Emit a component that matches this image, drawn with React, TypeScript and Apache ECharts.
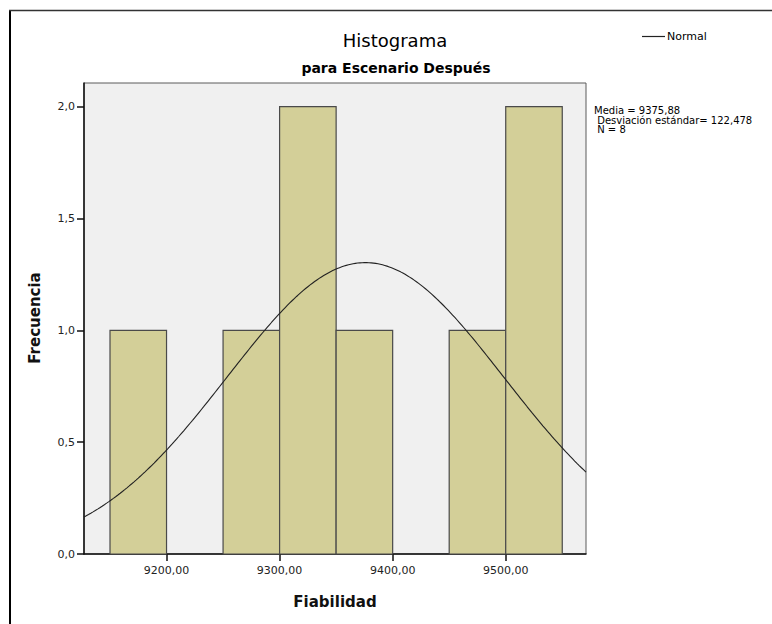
import React, { useEffect, useRef } from "react";
import * as echarts from "echarts";

// ---- data ----
const binStarts = [9150, 9200, 9250, 9300, 9350, 9400, 9450, 9500];
const binWidth = 50;
const counts = [1, 0, 1, 2, 1, 0, 1, 2];
const xTicks = [9200, 9300, 9400, 9500];
const yTicks = [0, 0.5, 1.0, 1.5, 2.0];
const meanValue = 9375.88;
const sdValue = 122.478;
const nValue = 8;
const xMin = 9127;
const xMax = 9571;
const yMax = 2.106;
const titleText = "Histograma";
const subtitleText = "para Escenario Después";
const xName = "Fiabilidad";
const yName = "Frecuencia";
const statsLines = ["Media = 9375,88", " Desviación estándar= 122,478", " N = 8"];

const FONT = "DejaVu Sans";

function normalCurve(): number[][] {
  const pts: number[][] = [];
  const k = (nValue * binWidth) / (sdValue * Math.sqrt(2 * Math.PI));
  for (let x = xMin; x <= xMax; x += 2) {
    const z = (x - meanValue) / sdValue;
    pts.push([x, k * Math.exp(-0.5 * z * z)]);
  }
  return pts;
}

export default function App() {
  const ref = useRef<HTMLDivElement>(null);
  useEffect(() => {
    if (!ref.current) return;
    const chart = echarts.init(ref.current, null, { renderer: "svg" });
    const barData = binStarts.map((s, i) => [s, s + binWidth, counts[i]]);
    const comma = (v: number, d: number) => v.toFixed(d).replace(".", ",");
    chart.setOption({
      animation: false,
      backgroundColor: "#ffffff",
      grid: {
        left: 84,
        top: 83,
        width: 502,
        height: 471,
        show: true,
        backgroundColor: "#f0f0f0",
        borderColor: "#5a5a5a",
        borderWidth: 1,
      },
      xAxis: {
        type: "value",
        min: xMin,
        max: xMax,
        splitLine: { show: false },
        axisLine: { show: true, lineStyle: { color: "#111", width: 1.5 } },
        axisTick: {
          show: true,
          length: 7,
          customValues: xTicks,
          lineStyle: { color: "#111", width: 1.5 },
        },
        axisLabel: {
          customValues: xTicks,
          formatter: (v: number) => comma(v, 2),
          fontFamily: FONT,
          fontSize: 11,
          color: "#222",
          margin: 11,
        },
      },
      yAxis: {
        type: "value",
        min: 0,
        max: yMax,
        splitLine: { show: false },
        axisLine: { show: true, lineStyle: { color: "#111", width: 1.5 } },
        axisTick: {
          show: true,
          length: 7,
          customValues: yTicks,
          lineStyle: { color: "#111", width: 1.5 },
        },
        axisLabel: {
          customValues: yTicks,
          formatter: (v: number) => comma(v, 1),
          fontFamily: FONT,
          fontSize: 11,
          color: "#222",
          margin: 9,
        },
      },
      legend: {
        data: ["Normal"],
        left: 642,
        top: 31,
        padding: 0,
        icon: "rect",
        itemWidth: 23,
        itemHeight: 1.2,
        textStyle: { fontFamily: FONT, fontSize: 11, color: "#000", padding: [0, 0, 0, -3] },
      },
      series: [
        {
          type: "custom",
          name: "Frecuencia",
          data: barData,
          encode: { x: [0, 1], y: 2 },
          renderItem: (params: any, api: any) => {
            const c = api.value(2);
            if (!c) return null;
            const p0 = api.coord([api.value(0), c]);
            const p1 = api.coord([api.value(1), 0]);
            return {
              type: "rect",
              shape: { x: p0[0], y: p0[1], width: p1[0] - p0[0], height: p1[1] - p0[1] },
              style: { fill: "#d3cf98", stroke: "#4a4a4a", lineWidth: 1.2 },
            };
          },
          z: 2,
        },
        {
          type: "line",
          name: "Normal",
          data: normalCurve(),
          showSymbol: false,
          symbol: "none",
          smooth: false,
          clip: true,
          lineStyle: { color: "#222", width: 1.1 },
          itemStyle: { color: "#222" },
          z: 3,
        },
      ],
      graphic: [
        { type: "line", shape: { x1: 10, y1: 10, x2: 10, y2: 624 }, style: { stroke: "#000", lineWidth: 2 } },
        { type: "line", shape: { x1: 9, y1: 10.5, x2: 772, y2: 10.5 }, style: { stroke: "#333", lineWidth: 1.5 } },
        {
          type: "text",
          x: 395,
          y: 40,
          style: { text: titleText, font: `18px "${FONT}"`, fill: "#000", align: "center", verticalAlign: "middle" },
        },
        {
          type: "text",
          x: 396,
          y: 68,
          style: { text: subtitleText, font: `bold 14px "${FONT}"`, fill: "#000", align: "center", verticalAlign: "middle" },
        },
        {
          type: "text",
          x: 335,
          y: 602,
          style: { text: xName, font: `bold 15px "${FONT}"`, fill: "#111", align: "center", verticalAlign: "middle" },
        },
        {
          type: "text",
          x: 35,
          y: 318,
          rotation: Math.PI / 2,
          style: { text: yName, font: `bold 15px "${FONT}"`, fill: "#111", align: "center", verticalAlign: "middle" },
        },
        {
          type: "text",
          x: 594,
          y: 106,
          style: {
            text: statsLines.join("\n"),
            font: `10px "${FONT}"`,
            lineHeight: 9.5,
            fill: "#000",
            align: "left",
            verticalAlign: "top",
          },
        },
      ],
    });
    return () => chart.dispose();
  }, []);
  return (
    <div
      ref={ref}
      style={{ position: "fixed", left: 0, top: 0, width: 772, height: 624, background: "#fff" }}
    />
  );
}
